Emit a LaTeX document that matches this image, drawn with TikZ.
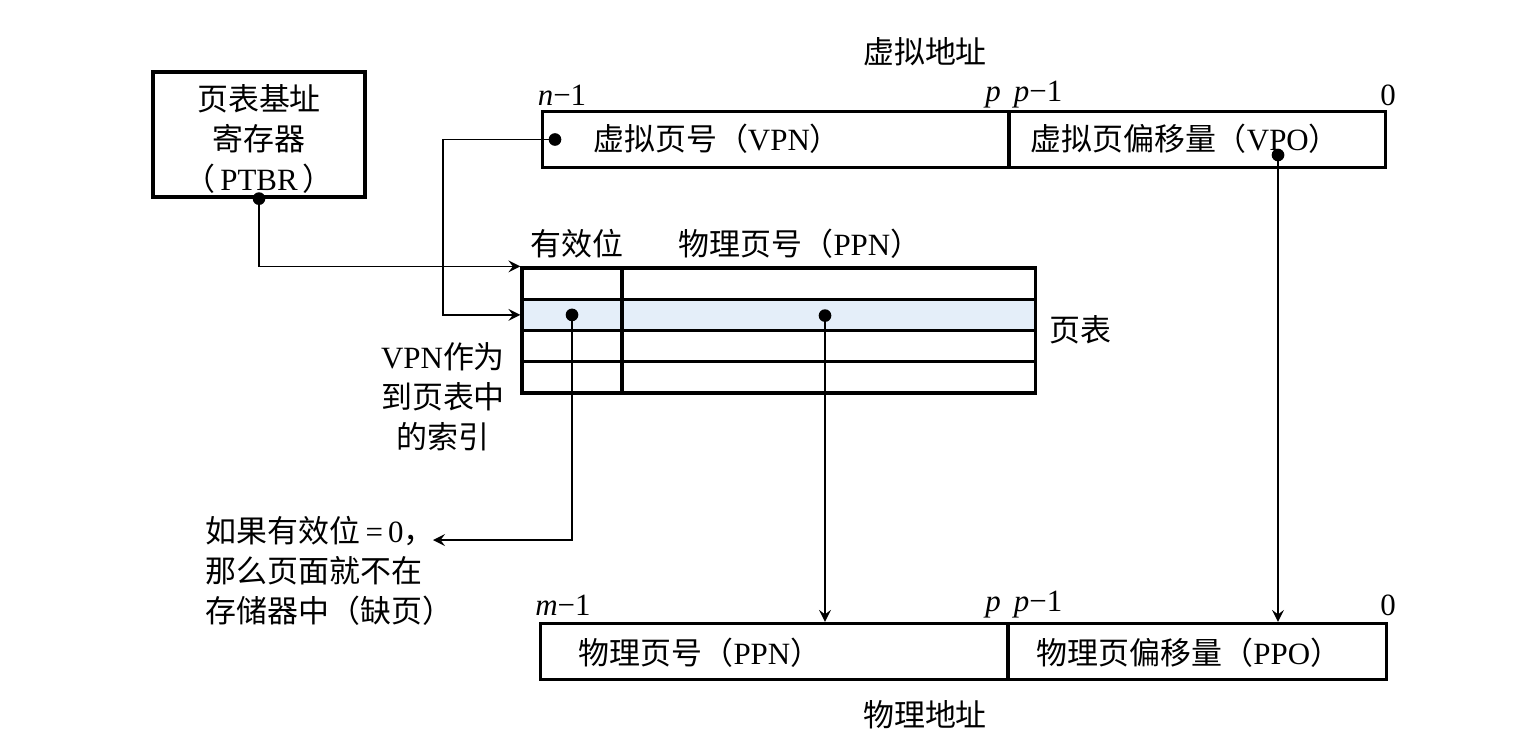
\documentclass[tikz,border=0pt]{standalone}
\usepackage{fontspec}
\setmainfont{Liberation Serif}
\newfontfamily\cjk{Noto Sans CJK SC}
\newcommand{\zh}[1]{{\cjk #1}}
\usetikzlibrary{positioning}
\definecolor{rowblue}{HTML}{E4EEF9}
\tikzset{
  field/.style={draw, line width=0.9pt, minimum height=0.56cm, inner sep=0pt},
  cell/.style={draw, line width=0.9pt, minimum height=0.3125cm, inner sep=0pt},
  lbl/.style={inner sep=0pt, font=\fontsize{8.8}{11.3}\selectfont},
  wire/.style={line width=0.5pt},
}
\begin{document}
\begin{tikzpicture}[x=0.01cm, y=-0.01cm, >=stealth]
\useasboundingbox (0,0) rectangle (1522,742);

% base register
\node[field, minimum width=2.12cm, minimum height=1.25cm] (ptbr) at (259,134.5) {};
\node[lbl, align=center] (ptbrtext) at (259,139) {\zh{页表基址}\\\zh{寄存器}\\\zh{（}\,PTBR\,\zh{）}};

% virtual address
\node[field, minimum width=4.66cm] (vpn) at (776,139.5) {};
\node[field, minimum width=3.76cm] (vpo) at (1197,139.5) {};
\node[lbl] (vaddr) at (925,52) {\zh{虚拟地址}};
\node[lbl] (vn) at (562,95) {\textit{n}−1};
\node[lbl] (vp) at (993,97) {\textit{p}};
\node[lbl] (vp1) at (1038,95) {\textit{p}−1};
\node[lbl] (v0) at (1388,95) {0};
\node[lbl] (vpntext) at (717,139) {\zh{虚拟页号（}VPN\zh{）}};
\node[lbl] (vpotext) at (1185,139) {\zh{虚拟页偏移量（}VPO\zh{）}};

% page table
\fill[rowblue] (522,299.25) rectangle (1035,330.5);
\foreach \r in {1,...,4}{
  \node[cell, minimum width=1cm] (v\r) at (572,{268+31.25*(\r-0.5)}) {};
  \node[cell, minimum width=4.13cm] (pp\r) at (828.5,{268+31.25*(\r-0.5)}) {};
}
\node[lbl] (valid) at (577,244) {\zh{有效位}};
\node[lbl] (ppnhead) at (800,244) {\zh{物理页号（}PPN\zh{）}};
\node[lbl] (ptlabel) at (1080,330) {\zh{页表}};
\node[lbl, align=center] (idx) at (443,397) {VPN\zh{作为}\\\zh{到页表中}\\\zh{的索引}};
\node[lbl, align=left, anchor=west] (fault) at (205,571) {\zh{如果有效位}\,=\,0\zh{，}\\\zh{那么页面就不在}\\\zh{存储器中（缺页）}};

% physical address
\node[field, minimum width=4.67cm] (ppn) at (774.5,651.5) {};
\node[field, minimum width=3.78cm] (ppo) at (1197,651.5) {};
\node[lbl] (pm) at (563,605) {\textit{m}−1};
\node[lbl] (pp) at (993,607) {\textit{p}};
\node[lbl] (pp1) at (1038,605) {\textit{p}−1};
\node[lbl] (p0) at (1388,605) {0};
\node[lbl] (ppntext) at (700,653) {\zh{物理页号（}PPN\zh{）}};
\node[lbl] (ppotext) at (1189,653) {\zh{物理页偏移量（}PPO\zh{）}};
\node[lbl] (paddr) at (925,715) {\zh{物理地址}};

% dots and wires
\coordinate (vpndot) at (555,139.5);
\coordinate (vpodot) at (1278,155);
\coordinate (pdot) at (825,315.6);
\coordinate (faultend) at (433,540);
\foreach \d in {ptbr.south, vpndot, vpodot, v2.center, pdot}
  \fill (\d) circle (1.8pt);
\draw[wire,->] (ptbr.south) |- (v1.north west);
\draw[wire,->] (vpndot) -- ++(-112,0) |- (v2.west);
\draw[wire,->] (v2.center) |- (faultend);
\draw[wire,->] (pdot) -- (pdot |- ppn.north);
\draw[wire,->] (vpodot) -- (vpodot |- ppo.north);
\end{tikzpicture}
\end{document}
